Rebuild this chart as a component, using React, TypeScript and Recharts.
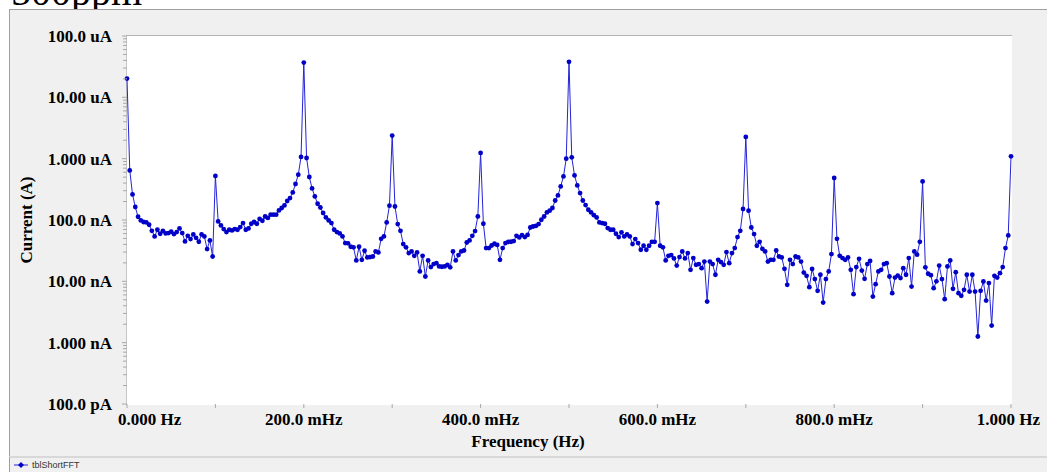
import { LineChart, Line, XAxis, YAxis } from 'recharts'

// FFT bins are 1/320 Hz apart, 0 .. 1 Hz. Values are current in nA.
const BIN_HZ = 1 / 320

const band000 = [
  20200, 644, 261, 163, 113, 98.4, 92.7, 91.2, 83.6, 66.7, 53.9, 69.3, 59.7, 66.7, 60.3, 61.2,
  64.3, 59.0, 63.6, 72.8, 61.2, 44.7, 55.3, 48.9, 58.1, 51.3, 44.2, 58.1, 53.9, 33.6, 46.4, 25.4,
  522, 94.7, 81.5, 71.1, 63.6, 69.3, 67.5, 71.1, 69.3, 76.7, 89.2, 69.3, 72.8, 86.9, 92.7, 86.9,
  104, 97.2, 114, 108, 122, 122, 122, 143, 157, 173, 204, 228, 282, 386, 548, 1067,
]
const band200 = [
  36900, 1026, 502, 327, 242, 184, 160, 130, 110, 98.4, 89.2, 69.3, 63.6, 60.3, 53.9, 42.1,
  41.6, 36.6, 35.8, 21.9, 36.6, 22.4, 31.5, 24.5, 24.9, 25.4, 30.7, 29.6, 49.4, 53.9, 91.2, 171,
  2376, 166, 85.9, 66.7, 40.5, 35.8, 28.9, 30.7, 26.1, 29.6, 14.5, 26.1, 12.0, 21.9, 17.1, 19.1,
  19.8, 17.5, 17.3, 17.5, 18.6, 16.9, 30.7, 21.9, 26.8, 30.7, 31.8, 43.0, 46.4, 55.3, 66.0, 114,
]
const band400 = [
  1239, 86.9, 34.8, 34.8, 38.4, 41.0, 39.3, 22.4, 34.8, 42.1, 44.0, 44.2, 45.4, 55.3, 51.9, 56.8,
  52.7, 57.2, 75.5, 78.4, 80.0, 85.9, 101, 114, 133, 142, 157, 208, 252, 353, 514, 1000,
  37900, 1050, 534, 366, 275, 208, 175, 147, 133, 120, 110, 91.2, 89.2, 86.9, 73.9, 69.3,
  69.3, 59.7, 52.7, 62.9, 53.9, 58.1, 53.9, 40.5, 48.9, 42.1, 32.7, 38.0, 32.7, 38.0, 44.0, 44.0,
]
const band600 = [
  189, 38.0, 35.8, 21.9, 26.1, 26.8, 23.6, 18.1, 24.9, 30.7, 23.6, 28.9, 15.4, 23.9, 18.6, 19.1,
  16.4, 21.0, 4.68, 21.0, 19.1, 12.8, 22.4, 20.6, 18.6, 30.0, 19.8, 28.9, 34.8, 52.7, 66.7, 151,
  2260, 142, 75.5, 59.0, 38.0, 44.0, 33.9, 30.7, 21.0, 22.4, 22.4, 31.8, 25.4, 24.5, 16.0, 8.77,
  22.4, 19.1, 25.4, 24.5, 21.0, 13.9, 12.3, 8.04, 15.9, 10.9, 7.00, 12.8, 4.51, 10.9, 14.5, 27.8,
]
const band800 = [
  484, 49.4, 26.1, 23.9, 22.4, 24.5, 15.4, 6.18, 17.1, 23.3, 15.0, 11.0, 19.1, 21.5, 5.65, 9.00,
  14.5, 15.4, 19.1, 19.8, 12.0, 6.41, 11.5, 12.4, 11.3, 16.4, 12.8, 23.9, 8.22, 30.7, 27.2, 44.0,
  426, 16.9, 13.3, 12.6, 7.74, 10.0, 18.1, 10.9, 5.12, 17.5, 21.9, 7.55, 14.1, 6.41, 5.80, 7.26,
  12.8, 6.81, 12.8, 6.81, 1.26, 7.00, 9.93, 4.86, 9.35, 1.90, 12.3, 11.5, 13.6, 17.1, 34.8, 56.0,
  1090,
]

const currentNa = [...band000, ...band200, ...band400, ...band600, ...band800]
const data = currentNa.map((v, i) => ({ freq: i * BIN_HZ, current: v }))

const DECADES = [0.1, 1, 10, 100, 1000, 10000, 100000]
const DECADE_LABELS = ['100.0 pA', '1.000 nA', '10.00 nA', '100.0 nA', '1.000 uA', '10.00 uA', '100.0 uA']
const yTicks: number[] = []
DECADES.forEach((d, i) => {
  yTicks.push(d)
  if (i < DECADES.length - 1) for (let k = 2; k <= 9; k++) yTicks.push(d * k)
})

const X_TICKS = [0, 0.1, 0.2, 0.3, 0.4, 0.5, 0.6, 0.7, 0.8, 0.9, 1]
const X_LABELED = [0, 0.2, 0.4, 0.6, 0.8, 1]
const X_LABELS = ['0.000 Hz', '200.0 mHz', '400.0 mHz', '600.0 mHz', '800.0 mHz', '1.000 Hz']

const W = 1047
const H = 472
const PLOT_LEFT = 127
const PLOT_TOP = 36
const PLOT_RIGHT = 1011
const PLOT_BOTTOM = 404
const serif = '"Liberation Serif", "Times New Roman", serif'

function YTick(props: any) {
  const { y, payload } = props
  const idx = DECADES.indexOf(payload.value)
  const len = idx >= 0 ? 5 : 4
  return (
    <g>
      <line x1={PLOT_LEFT - len} x2={PLOT_LEFT} y1={y} y2={y} stroke="#a8a8a8" />
      {idx >= 0 && (
        <text x={112} y={y} dy="0.35em" textAnchor="end" fontFamily={serif} fontWeight="bold" fontSize={17} fill="#000">
          {DECADE_LABELS[idx]}
        </text>
      )}
    </g>
  )
}

function XTick(props: any) {
  const { x, payload } = props
  const idx = X_LABELED.indexOf(payload.value)
  let anchor = 'middle'
  let tx = x
  if (idx === 0) { anchor = 'start'; tx = x - 9 }
  if (idx === X_LABELED.length - 1) { anchor = 'end'; tx = x + 29 }
  return (
    <g>
      <line x1={x} x2={x} y1={PLOT_BOTTOM} y2={PLOT_BOTTOM + 4} stroke="#a8a8a8" />
      {idx >= 0 && (
        <text x={tx} y={PLOT_BOTTOM + 21} textAnchor={anchor} fontFamily={serif} fontWeight="bold" fontSize={17} fill="#000">
          {X_LABELS[idx]}
        </text>
      )}
    </g>
  )
}

export default function App() {
  return (
    <div style={{ position: 'absolute', left: 0, top: 0, width: W, height: H, overflow: 'hidden', background: '#fff' }}>
      <svg width={W} height={9} style={{ position: 'absolute', left: 0, top: 0 }}>
        <text x={11} y={5} fontFamily={serif} fontSize={40} fill="#000">500ppm</text>
      </svg>
      <div style={{ position: 'absolute', left: 9, top: 9, width: W, height: 446, background: '#f0f0f0', border: '1px solid #a0a0a0' }} />
      <div style={{ position: 'absolute', left: 9, top: 456, width: W, height: 20, background: '#f0f0f0', borderLeft: '1px solid #a0a0a0', borderTop: '2px solid #d8d8d8' }} />
      <div style={{ position: 'absolute', left: PLOT_LEFT - 1, top: PLOT_TOP - 1, width: PLOT_RIGHT - PLOT_LEFT + 1, height: PLOT_BOTTOM - PLOT_TOP + 1, background: '#fff', borderTop: '1px solid #b4b4b4', borderLeft: '1px solid #c8c8c8' }} />
      <div style={{ position: 'absolute', left: 0, top: 0 }}>
        <LineChart width={W} height={H} data={data} margin={{ top: PLOT_TOP, right: W - PLOT_RIGHT, bottom: 20, left: 17 }}>
          <XAxis
            dataKey="freq"
            type="number"
            domain={[0, 1]}
            ticks={X_TICKS}
            interval={0}
            tick={<XTick />}
            tickLine={false}
            axisLine={false}
            height={48}
            label={{
              content: () => (
                <text x={528} y={447} textAnchor="middle" fontFamily={serif} fontWeight="bold" fontSize={17} fill="#000">
                  Frequency (Hz)
                </text>
              ),
            }}
          />
          <YAxis
            type="number"
            scale="log"
            domain={[0.1, 100000]}
            allowDataOverflow
            ticks={yTicks}
            interval={0}
            tick={<YTick />}
            tickLine={false}
            axisLine={false}
            width={110}
            label={{
              content: () => (
                <text x={32} y={220} transform="rotate(-90 32 220)" textAnchor="middle" fontFamily={serif} fontWeight="bold" fontSize={17} fill="#000">
                  Current (A)
                </text>
              ),
            }}
          />
          <Line
            dataKey="current"
            type="linear"
            stroke="#2424d8"
            strokeWidth={1}
            dot={{ r: 2.4, fill: '#0000c8', stroke: 'none' }}
            activeDot={false}
            isAnimationActive={false}
          />
        </LineChart>
      </div>
      <div style={{ position: 'absolute', left: 14, top: 460, display: 'flex', alignItems: 'center', fontFamily: '"Liberation Sans", Arial, sans-serif', fontSize: 9, color: '#333' }}>
        <svg width={14} height={10}>
          <line x1={0} x2={14} y1={5} y2={5} stroke="#2424d8" />
          <path d="M7 2 L10 5 L7 8 L4 5 Z" fill="#0000c8" />
        </svg>
        <span style={{ marginLeft: 4 }}>tblShortFFT</span>
      </div>
    </div>
  )
}
